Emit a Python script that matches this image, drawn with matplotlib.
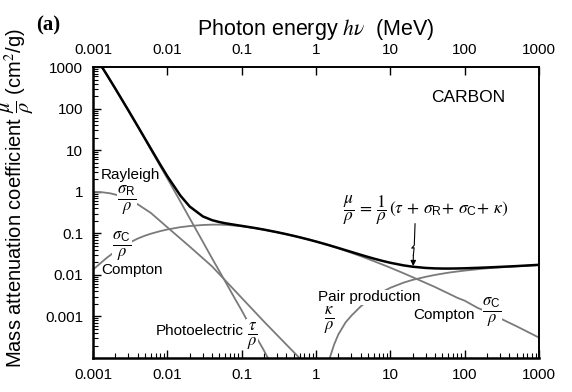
import numpy as np
import matplotlib
matplotlib.use("Agg")
import matplotlib.pyplot as plt
from matplotlib.ticker import FixedLocator, FixedFormatter, LogLocator, NullFormatter

plt.rcParams['font.family'] = ['Liberation Sans', 'DejaVu Sans']
plt.rcParams['mathtext.fontset'] = 'stix'

#----------- data (carbon, cm2/g vs MeV)
E_total = [0.001, 0.0015, 0.002, 0.003, 0.004, 0.005, 0.006, 0.008, 0.01, 0.015,
           0.02, 0.03, 0.04, 0.05, 0.06, 0.08, 0.1, 0.15, 0.2, 0.3, 0.4, 0.5,
           0.6, 0.8, 1, 1.25, 1.5, 2, 3, 4, 5, 6, 8, 10, 15, 20, 30, 40, 50,
           60, 80, 100, 150, 200, 300, 500, 1000]
mu_total = [2211, 700.2, 302.6, 90.33, 37.78, 19.12, 10.95, 4.576, 2.373, 0.8071,
            0.442, 0.2562, 0.2076, 0.1871, 0.1753, 0.161, 0.1514, 0.1347, 0.1229,
            0.1066, 0.09546, 0.08715, 0.08058, 0.07076, 0.06361, 0.0569, 0.05179,
            0.04442, 0.03562, 0.03047, 0.02708, 0.02469, 0.02154, 0.01959, 0.01698,
            0.01575, 0.01471, 0.01434, 0.01423, 0.01421, 0.0143, 0.01443, 0.0148,
            0.0151, 0.0156, 0.0163, 0.0175]

E_photo = [0.001, 0.0015, 0.002, 0.003, 0.004, 0.005, 0.006, 0.008, 0.01, 0.015,
           0.02, 0.03, 0.04, 0.05, 0.06, 0.08, 0.1, 0.15, 0.2, 0.25]
mu_photo = [2209, 699, 301, 89.5, 37.1, 18.5, 10.4, 4.2, 2.1, 0.58,
            0.23, 0.063, 0.025, 0.0124, 0.007, 0.0028, 0.0014, 0.00037, 0.00015, 0.00007]

E_rayl = [0.001, 0.0013, 0.0017, 0.0022, 0.003, 0.004, 0.006, 0.01, 0.02, 0.04,
          0.1, 0.2, 0.4, 0.6, 0.8]
mu_rayl = [1.0, 0.98, 0.92, 0.82, 0.66, 0.50, 0.31, 0.14, 0.048, 0.016, 0.0028,
           0.00075, 0.00021, 0.0001, 0.00006]

E_compt = [0.001, 0.0015, 0.002, 0.003, 0.004, 0.005, 0.006, 0.008, 0.01, 0.015,
           0.02, 0.03, 0.04, 0.05, 0.06, 0.08, 0.1, 0.15, 0.2, 0.3, 0.4, 0.5, 0.6,
           0.8, 1, 1.5, 2, 3, 4, 5, 6, 8, 10, 15, 20, 30, 40, 50, 60, 80, 100,
           150, 200, 300, 500, 1000]
mu_compt = [0.0134, 0.025, 0.037, 0.058, 0.075, 0.088, 0.098, 0.113, 0.124, 0.141,
            0.150, 0.159, 0.162, 0.162, 0.160, 0.154, 0.148, 0.134, 0.123, 0.106,
            0.0954, 0.0871, 0.0806, 0.0708, 0.0636, 0.0516, 0.0438, 0.034, 0.0282,
            0.0243, 0.0214, 0.0175, 0.0149, 0.011, 0.0088, 0.0064, 0.0051, 0.0042,
            0.0036, 0.0028, 0.0024, 0.0016, 0.0013, 0.0009, 0.00058, 0.00031]

E_pair = [1.3, 1.5, 1.75, 2, 2.5, 3, 4, 5, 6, 8, 10, 15, 20, 30, 40, 50, 60, 80, 100,
          150, 200, 300, 500, 1000]
mu_pair = [4e-5, 9e-5, 2.1e-4, 3.7e-4, 7.2e-4, 1.05e-3, 1.75e-3, 2.4e-3, 3.0e-3,
           4.0e-3, 4.9e-3, 6.5e-3, 7.6e-3, 9.0e-3, 0.0100, 0.0107, 0.0113, 0.0121,
           0.0127, 0.0137, 0.0144, 0.0152, 0.0161, 0.0172]

decades = [0.001, 0.01, 0.1, 1, 10, 100, 1000]
decade_lbls = ["0.001", "0.01", "0.1", "1", "10", "100", "1000"]

#----------- figure
fig = plt.figure(figsize=(5.72, 3.92), dpi=100)
ax = fig.add_axes([0.1626, 0.0867, 0.7797, 0.742])

grey = "#7a7a7a"
ax.plot(E_photo, mu_photo, color=grey, lw=1.3, zorder=2)
ax.plot(E_rayl, mu_rayl, color=grey, lw=1.3, zorder=2)
ax.plot(E_compt, mu_compt, color=grey, lw=1.3, zorder=2)
ax.plot(E_pair, mu_pair, color=grey, lw=1.3, zorder=2)
ax.plot(E_total, mu_total, color="black", lw=1.8, zorder=3)

ax.set_xscale("log")
ax.set_yscale("log")
ax.set_xlim(0.001, 1000)
ax.set_ylim(1e-4, 1000)

ax.xaxis.set_major_locator(FixedLocator(decades))
ax.xaxis.set_major_formatter(FixedFormatter(decade_lbls))
ax.xaxis.set_minor_locator(LogLocator(base=10, subs=np.arange(2, 10), numticks=20))
ax.xaxis.set_minor_formatter(NullFormatter())
ax.yaxis.set_major_locator(FixedLocator(decades))
ax.yaxis.set_major_formatter(FixedFormatter(decade_lbls))
ax.yaxis.set_minor_locator(LogLocator(base=10, subs=np.arange(2, 10), numticks=20))
ax.yaxis.set_minor_formatter(NullFormatter())

fs = 11
ax.tick_params(axis="both", which="major", direction="in", length=6, width=1.0,
               labelsize=fs, pad=7)
ax.tick_params(axis="both", which="minor", direction="in", length=3.5, width=0.8)
ax.tick_params(axis="x", which="major", top=True, labeltop=True)
ax.tick_params(axis="x", which="minor", top=False)
ax.tick_params(axis="y", which="both", right=False)
for s in ax.spines.values():
    s.set_linewidth(1.4)
ax.spines["left"].set_linewidth(1.8)
ax.spines["bottom"].set_linewidth(1.8)

ax.xaxis.set_label_position("top")
ax.set_xlabel(r"Photon energy $h\nu$  (MeV)", fontsize=15.5, labelpad=6)
ax.set_ylabel(r"Mass attenuation coefficient $\dfrac{\mu}{\rho}$ (cm$^2$/g)", fontsize=14.5)
ax.yaxis.set_label_coords(-0.128, 0.55)

fig.text(0.063, 0.935, "(a)", fontsize=15, fontweight="bold", family="Liberation Serif",
         ha="left", va="center")

#----------- labels on the curves
wb = dict(facecolor="white", edgecolor="none", pad=0.5)
frac_fs = 17
ax.text(111, 189, "CARBON", fontsize=12.5, ha="center", va="center")
ax.text(0.00315, 2.54, "Rayleigh", fontsize=11, ha="center", va="center")
ax.text(0.00287, 0.62, r"$\frac{\sigma_{\mathregular{R}}}{\rho}$", fontsize=frac_fs,
        ha="center", va="center", bbox=wb, zorder=4)
ax.text(0.00246, 0.046, r"$\frac{\sigma_{\mathregular{C}}}{\rho}$", fontsize=frac_fs,
        ha="center", va="center", bbox=wb, zorder=4)
ax.text(0.00335, 0.0134, "Compton", fontsize=11, ha="center", va="center")
ax.text(0.0275, 4.4e-4, "Photoelectric", fontsize=11, ha="center", va="center")
ax.text(0.138, 3.4e-4, r"$\frac{\tau}{\rho}$", fontsize=frac_fs, ha="center", va="center",
        bbox=wb, zorder=4)
ax.text(5.2, 0.00286, "Pair production", fontsize=11, ha="center", va="center",
        bbox=wb, zorder=4)
ax.text(1.5, 8.3e-4, r"$\frac{\kappa}{\rho}$", fontsize=frac_fs, ha="center", va="center")
ax.text(53, 1.06e-3, "Compton", fontsize=11, ha="center", va="center")
ax.text(234, 1.25e-3, r"$\frac{\sigma_{\mathregular{C}}}{\rho}$", fontsize=frac_fs,
        ha="center", va="center", bbox=wb, zorder=4)
ax.text(30, 0.35,
        r"$\dfrac{\mu}{\rho}\,=\,\dfrac{1}{\rho}\,(\tau\,+\,\sigma_{\mathregular{R}}\!+\,\sigma_{\mathregular{C}}\!+\,\kappa)$",
        fontsize=12.5, ha="center", va="center")

# zigzag arrow to the total curve
zig_x = [21.5, 21.0, 19.4, 20.9, 20.4]
zig_y = [0.17, 0.052, 0.044, 0.045, 0.03]
ax.plot(zig_x, zig_y, color="black", lw=0.8, zorder=4)
ax.annotate("", xy=(20.3, 0.0163), xytext=(20.4, 0.03),
            arrowprops=dict(arrowstyle="-|>", color="black", lw=0.8,
                            mutation_scale=8, shrinkA=0, shrinkB=0))

fig.savefig("out.png", dpi=100)
